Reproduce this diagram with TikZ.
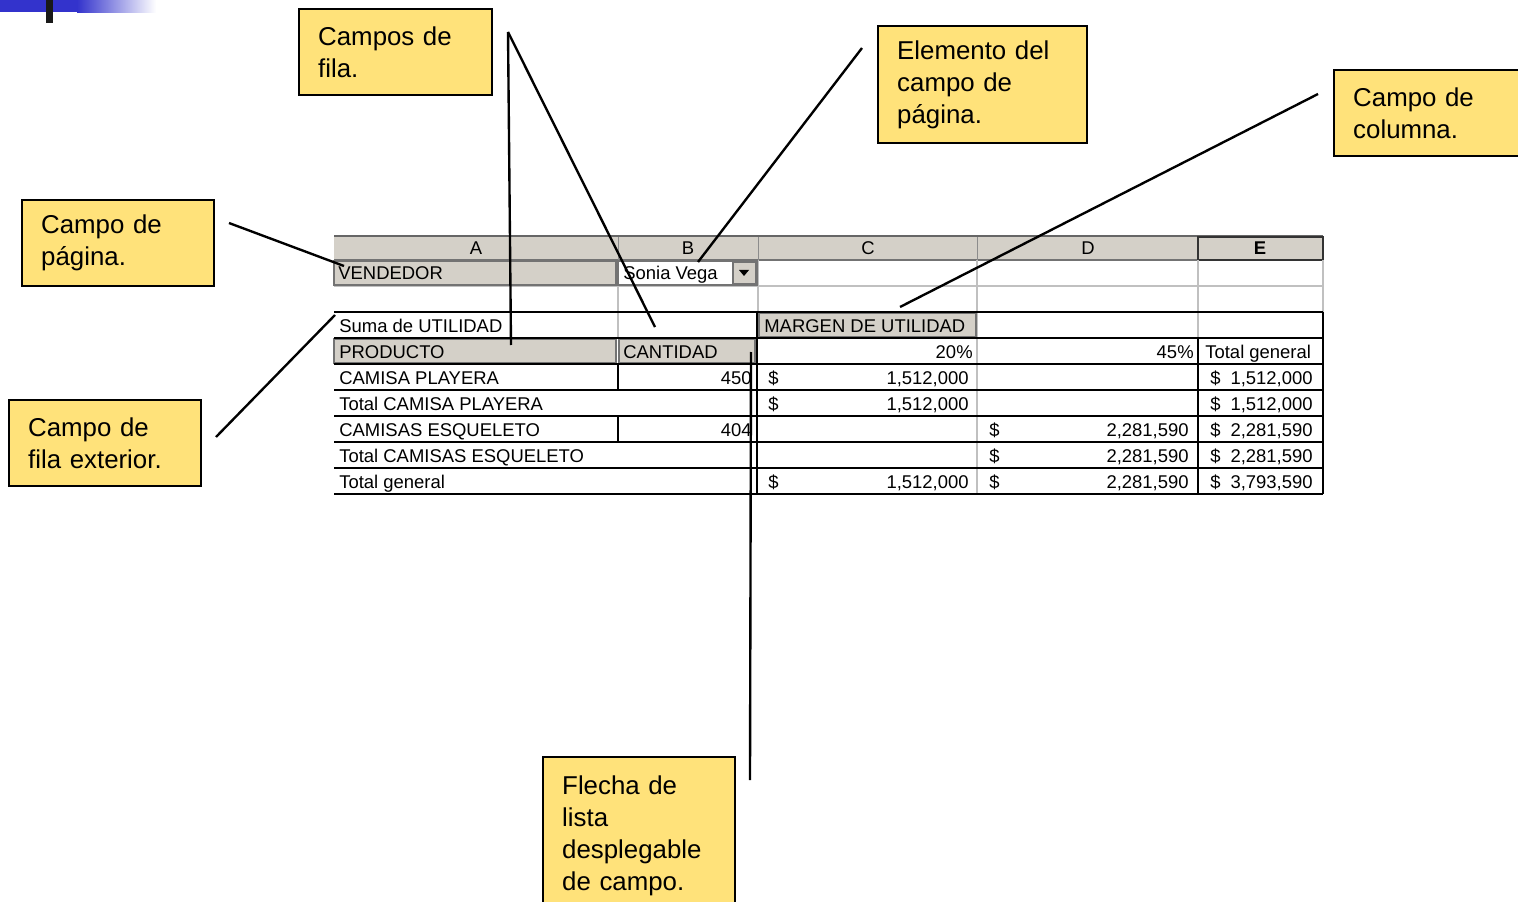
\documentclass[tikz,border=0pt]{standalone}
\usepackage{fontspec}
\setmainfont{Liberation Sans}
\usepackage{tikz}
\definecolor{notefill}{RGB}{255,226,122}
\definecolor{xlgray}{RGB}{212,208,200}
\definecolor{gridgray}{RGB}{192,192,192}
\definecolor{slideblue}{RGB}{51,51,204}

\begin{document}
\begin{tikzpicture}[x=0.02cm, y=0.02cm]
\tikzstyle{every node}+=[inner sep=0pt]
\tikzstyle{note}=[draw=black, line width=1.4pt, fill=notefill, anchor=north west, align=left, inner xsep=0.38cm, font=\fontsize{14.7}{18.1}\selectfont]
\tikzstyle{cell}=[font=\fontsize{10.5}{12}\selectfont]
\tikzstyle{conn}=[black, line width=1.35pt]
\tikzstyle{fieldbtn}=[fill=xlgray, draw=black!55, line width=0.6pt]
\tikzstyle{grid}=[gridgray, line width=0.6pt]
\tikzstyle{pvt}=[black, line width=1.15pt]
\path[use as bounding box] (0,0) rectangle (1518,-902);
\clip (0,0) rectangle (1518,-902);
% slide corner
\fill [slideblue] (0,0) rectangle (78,-12);
\shade [left color=slideblue, right color=white] (77,0) rectangle (156,-13);
\fill [black!90] (46,0) rectangle (53,-23);
% column headers
\fill [xlgray] (334,-236) rectangle (1323,-260);
\draw [black!60, line width=1.6pt] (334,-236) -- (1323,-236);
\draw [black!55, line width=0.8pt] (334,-260) -- (1323,-260);
\draw [black!45] (618,-237) -- (618,-260);
\draw [black!45] (758,-237) -- (758,-260);
\draw [black!45] (977,-237) -- (977,-260);
\draw [black!80, line width=1pt] (1198,-237) rectangle (1323,-260);
\node [cell] (hA) at (476,-248) {A};
\node [cell] (hB) at (688,-248) {B};
\node [cell] (hC) at (868,-248) {C};
\node [cell] (hD) at (1088,-248) {D};
\node [cell, font=\fontsize{10.5}{12}\selectfont\bfseries] (hE) at (1260,-248) {E};
% gridlines
\draw [grid] (334,-286) -- (1323,-286);
\draw [grid] (618,-260) -- (618,-338);
\draw [grid] (758,-260) -- (758,-312);
\draw [grid] (977,-260) -- (977,-494);
\draw [grid] (1198,-260) -- (1198,-338);
\draw [grid] (1323,-260) -- (1323,-312);
% field buttons
\draw [fieldbtn] (334,-261) rectangle (616,-285);
\draw [black!55, line width=0.6pt] (618,-261) rectangle (757,-285);
\draw [fieldbtn] (733,-262) rectangle (756,-284);
\fill [black] (739,-270) -- (749,-270) -- (744,-276) -- cycle;
\draw [fieldbtn] (759,-313) rectangle (976,-337);
\draw [fieldbtn] (334,-339) rectangle (616,-363);
\draw [fieldbtn] (619,-339) rectangle (755,-363);
% pivot borders
\draw [pvt] (334,-312) -- (1323,-312);
\draw [pvt] (334,-338) -- (1323,-338);
\draw [pvt] (334,-364) -- (1323,-364);
\draw [pvt] (334,-390) -- (1323,-390);
\draw [pvt] (334,-416) -- (1323,-416);
\draw [pvt] (334,-442) -- (1323,-442);
\draw [pvt] (334,-468) -- (1323,-468);
\draw [pvt] (334,-494) -- (1323,-494);
\draw [pvt] (757,-312) -- (757,-494);
\draw [pvt] (1198,-338) -- (1198,-494);
\draw [pvt] (1323,-312) -- (1323,-494);
\draw [pvt] (618,-364) -- (618,-390);
\draw [pvt] (618,-416) -- (618,-442);
% cell texts
\node [cell, anchor=base west] (vend) at (338,-279.5) {VENDEDOR};
\node [cell, anchor=base west] (sonia) at (623,-279.5) {Sonia Vega};
\node [cell, anchor=base west] (suma) at (339,-332) {Suma de UTILIDAD};
\node [cell, anchor=base west] (margen) at (764,-332) {MARGEN DE UTILIDAD};
\node [cell, anchor=base west] (prod) at (339,-358) {PRODUCTO};
\node [cell, anchor=base west] (cant) at (623,-358) {CANTIDAD};
\node [cell, anchor=base east] (pct20) at (973,-358) {20\%};
\node [cell, anchor=base east] (pct45) at (1194,-358) {45\%};
\node [cell, anchor=base west] (totcol) at (1205,-358) {Total general};
\node [cell, anchor=base west] (a5) at (339,-384) {CAMISA PLAYERA};
\node [cell, anchor=base east] (b5) at (752,-384) {450};
\node [cell, anchor=base west] (c5s) at (768,-384) {\$};
\node [cell, anchor=base east] (c5) at (969,-384) {1,512,000};
\node [cell, anchor=base west] (e5s) at (1210,-384) {\$};
\node [cell, anchor=base east] (e5) at (1313,-384) {1,512,000};
\node [cell, anchor=base west] (a6) at (339,-410) {Total CAMISA PLAYERA};
\node [cell, anchor=base west] (c6s) at (768,-410) {\$};
\node [cell, anchor=base east] (c6) at (969,-410) {1,512,000};
\node [cell, anchor=base west] (e6s) at (1210,-410) {\$};
\node [cell, anchor=base east] (e6) at (1313,-410) {1,512,000};
\node [cell, anchor=base west] (a7) at (339,-436) {CAMISAS ESQUELETO};
\node [cell, anchor=base east] (b7) at (752,-436) {404};
\node [cell, anchor=base west] (d7s) at (989,-436) {\$};
\node [cell, anchor=base east] (d7) at (1189,-436) {2,281,590};
\node [cell, anchor=base west] (e7s) at (1210,-436) {\$};
\node [cell, anchor=base east] (e7) at (1313,-436) {2,281,590};
\node [cell, anchor=base west] (a8) at (339,-462) {Total CAMISAS ESQUELETO};
\node [cell, anchor=base west] (d8s) at (989,-462) {\$};
\node [cell, anchor=base east] (d8) at (1189,-462) {2,281,590};
\node [cell, anchor=base west] (e8s) at (1210,-462) {\$};
\node [cell, anchor=base east] (e8) at (1313,-462) {2,281,590};
\node [cell, anchor=base west] (a9) at (339,-488) {Total general};
\node [cell, anchor=base west] (c9s) at (768,-488) {\$};
\node [cell, anchor=base east] (c9) at (969,-488) {1,512,000};
\node [cell, anchor=base west] (d9s) at (989,-488) {\$};
\node [cell, anchor=base east] (d9) at (1189,-488) {2,281,590};
\node [cell, anchor=base west] (e9s) at (1210,-488) {\$};
\node [cell, anchor=base east] (e9) at (1313,-488) {3,793,590};
% callouts
\node [note, text width=3.1cm, minimum height=1.72cm] (filas) at (298,-8) {Campos de\\fila.};
\node [note, text width=3.42cm, minimum height=2.34cm] (elem) at (877,-25) {Elemento del\\campo de\\página.};
\node [note, text width=3.3cm, minimum height=1.72cm] (colum) at (1333,-69) {Campo de\\columna.};
\node [note, text width=3.08cm, minimum height=1.72cm] (pagina) at (21,-199) {Campo de\\página.};
\node [note, text width=3.08cm, minimum height=1.72cm] (exter) at (8,-399) {Campo de\\fila exterior.};
\node [note, text width=3.08cm, minimum height=3.14cm] (flecha) at (542,-756) {Flecha de\\lista\\desplegable\\de campo.};
% leader lines
\coordinate (filasTip) at (508,-32);
\coordinate (prodPt) at (511,-345);
\coordinate (cantPt) at (655,-327);
\coordinate (elemTip) at (862,-48);
\coordinate (soniaPt) at (698,-262);
\coordinate (columTip) at (1318,-94);
\coordinate (margenPt) at (900,-307);
\coordinate (paginaTip) at (229,-223);
\coordinate (vendPt) at (344,-266);
\coordinate (exterTip) at (216,-437);
\coordinate (sumaPt) at (335,-315);
\coordinate (flechaTip) at (750,-780);
\coordinate (cantBtn) at (751,-352);
\draw [conn] (filasTip) -- (prodPt);
\draw [conn] (filasTip) -- (cantPt);
\draw [conn] (elemTip) -- (soniaPt);
\draw [conn] (columTip) -- (margenPt);
\draw [conn] (paginaTip) -- (vendPt);
\draw [conn] (exterTip) -- (sumaPt);
\draw [conn] (flechaTip) -- (cantBtn);
\end{tikzpicture}
\end{document}
